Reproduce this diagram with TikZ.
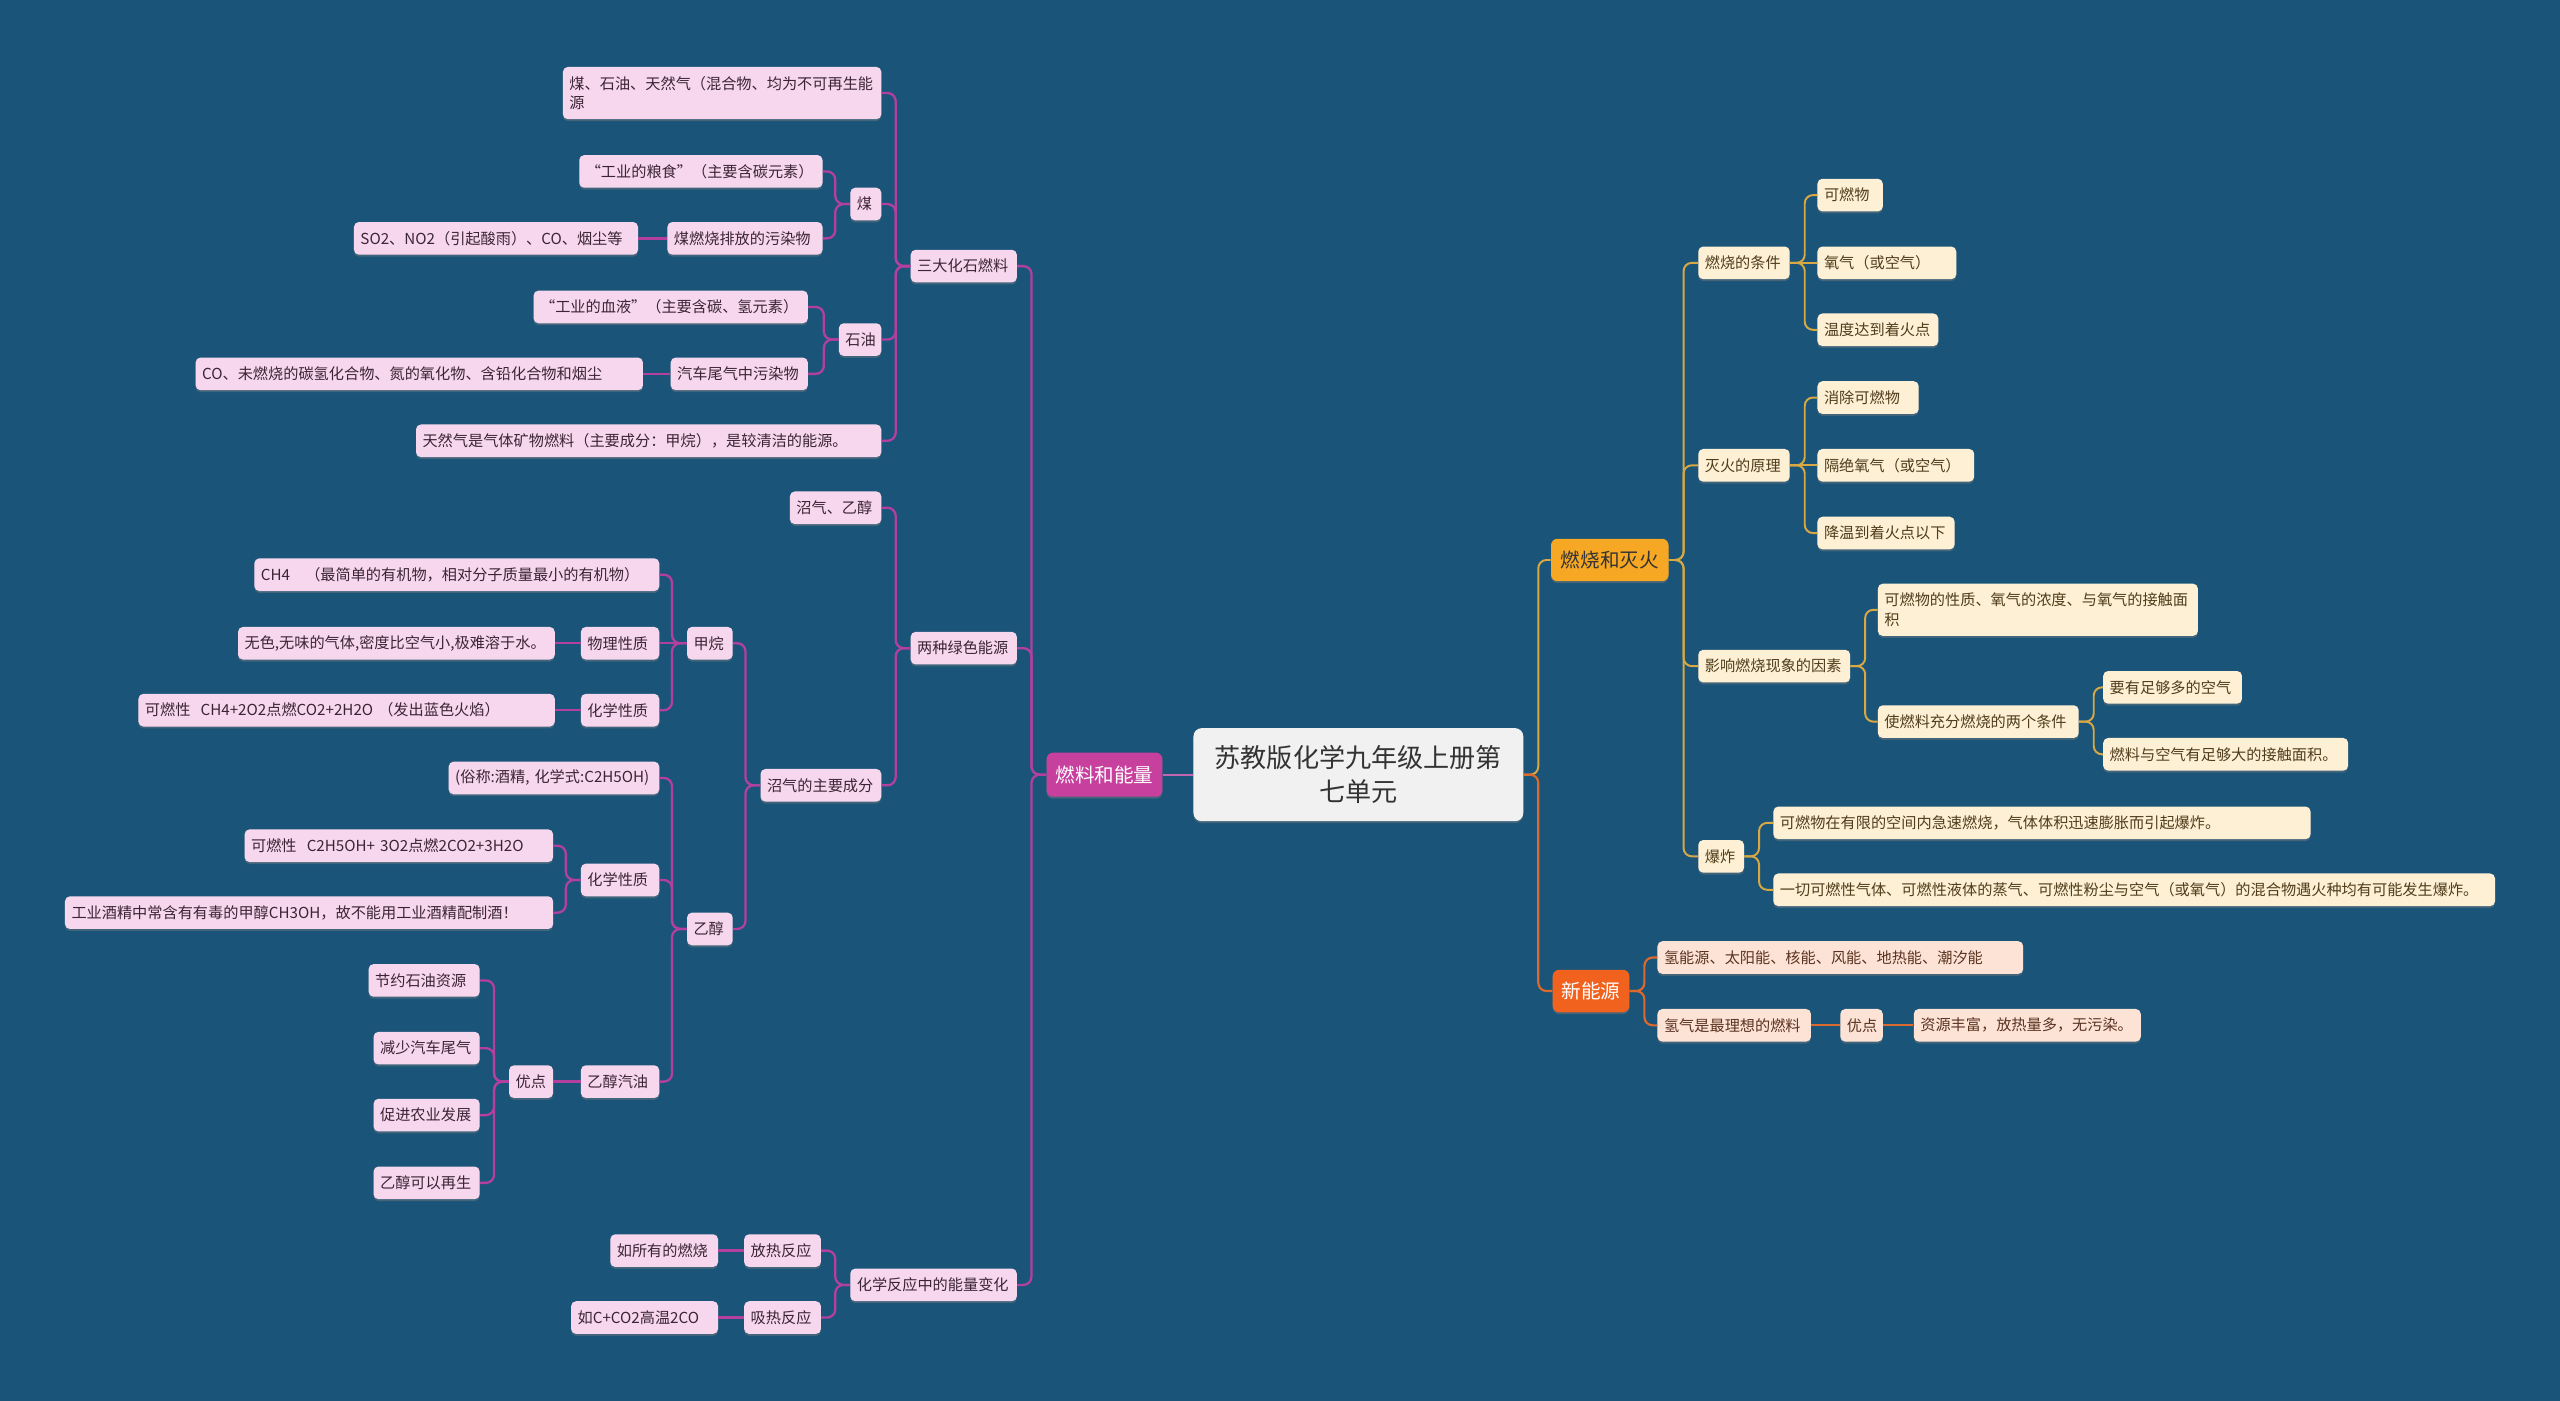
\documentclass[tikz,border=0pt]{standalone}
\usepackage{fontspec}
\newfontfamily\cjk{Noto Sans CJK SC}
\usetikzlibrary{shadows}
\definecolor{bg}{HTML}{1A5478}
\definecolor{pinkfill}{HTML}{F7D7ED}
\definecolor{pinktext}{HTML}{3B2436}
\definecolor{magline}{HTML}{B3409F}
\definecolor{magmain}{HTML}{C8409E}
\definecolor{creamfill}{HTML}{FEF0D4}
\definecolor{creamtext}{HTML}{4F3D1C}
\definecolor{goldline}{HTML}{D7A844}
\definecolor{yellowmain}{HTML}{F6A723}
\definecolor{peachfill}{HTML}{FDE3D5}
\definecolor{peachtext}{HTML}{5A3322}
\definecolor{orangeline}{HTML}{DC6A2E}
\definecolor{orangemain}{HTML}{F1621E}
\definecolor{rootfill}{HTML}{F1F1F1}
\newcommand\linkL[2]{\draw[lineL] (#1.west) -- ++(-9,0) |- (#2.east);}
\newcommand\linkR[3]{\draw[#1] (#2.east) -- ++(9,0) |- (#3.west);}
\begin{document}
\begin{tikzpicture}[x=1pt,y=-1pt,
  boxbase/.style={rounded corners=3pt, inner xsep=4pt, inner ysep=2pt, minimum height=20pt,
    font=\cjk\fontsize{9.3}{12}\selectfont, align=left,
    drop shadow={shadow xshift=0pt,shadow yshift=-1.2pt,opacity=0.4}},
  pinkbox/.style={boxbase, fill=pinkfill, text=pinktext, anchor=east},
  creambox/.style={boxbase, fill=creamfill, text=creamtext, anchor=west},
  peachbox/.style={boxbase, fill=peachfill, text=peachtext, anchor=west},
  mainbox/.style={rounded corners=4pt, inner sep=2pt, minimum height=27pt,
    font=\cjk\fontsize{12}{15}\selectfont,
    drop shadow={shadow xshift=0pt,shadow yshift=-1.2pt,opacity=0.4}},
  lineL/.style={draw=magline, line width=1.4pt, rounded corners=5pt},
  lineG/.style={draw=goldline, line width=1.2pt, rounded corners=5pt},
  lineO/.style={draw=orangeline, line width=1.3pt, rounded corners=5pt}
]
\fill[bg] (0,0) rectangle (1568,858);
\useasboundingbox (0,0) rectangle (1568,858);

% root and main branches
\node[rounded corners=5pt, fill=rootfill, text=black!80, minimum width=202pt, minimum height=57pt,
  align=center, font=\cjk\fontsize{16}{21}\selectfont,
  drop shadow={shadow xshift=0pt,shadow yshift=-1.2pt,opacity=0.4}] (root) at (832,474.5)
  {苏教版化学九年级上册第\\七单元};
\node[mainbox, fill=magmain, text=white, minimum width=71pt] (rl) at (676.5,474.5) {燃料和能量};
\node[mainbox, fill=yellowmain, text=black!80, minimum width=72pt, minimum height=26pt] (rshm) at (986,343) {燃烧和灭火};
\node[mainbox, fill=orangemain, text=white, minimum width=47pt, minimum height=26pt] (xny) at (974.5,607) {新能源};

% left side, level 2
\node[pinkbox, text width=57pt] (sdhs) at (623,163) {三大化石燃料};
\node[pinkbox, text width=57pt] (lzls) at (623,397) {两种绿色能源};
\node[pinkbox, text width=94pt] (hxfy) at (623,787) {化学反应中的能量变化};

% 三大化石燃料
\node[pinkbox, text width=187pt, minimum height=32pt] (mst) at (540,57) {煤、石油、天然气（混合物、均为不可再生能\\源};
\node[pinkbox, text width=11pt] (mei) at (540,125) {煤};
\node[pinkbox, text width=18pt] (sy) at (540,208) {石油};
\node[pinkbox, text width=277pt] (trq) at (540,270) {天然气是气体矿物燃料（主要成分：甲烷），是较清洁的能源。};
\node[pinkbox, text width=141pt] (meia) at (504,105) {“工业的粮食”（主要含碳元素）};
\node[pinkbox, text width=87pt] (meib) at (504,146) {煤燃烧排放的污染物};
\node[pinkbox, text width=166pt] (meic) at (391,146) {SO2、NO2（引起酸雨）、CO、烟尘等};
\node[pinkbox, text width=160pt] (sya) at (495,188) {“工业的血液”（主要含碳、氢元素）};
\node[pinkbox, text width=76pt] (syb) at (495,229) {汽车尾气中污染物};
\node[pinkbox, text width=266pt] (syc) at (394,229) {CO、未燃烧的碳氢化合物、氮的氧化物、含铅化合物和烟尘};

% 两种绿色能源
\node[pinkbox, text width=48pt] (zq) at (540,311) {沼气、乙醇};
\node[pinkbox, text width=66pt] (zqzy) at (540,481) {沼气的主要成分};
\node[pinkbox, text width=20pt] (jw) at (449,394) {甲烷};
\node[pinkbox, text width=20pt] (yc) at (449,569) {乙醇};
\node[pinkbox, text width=240pt] (chf) at (404,352) {CH4\quad（最简单的有机物，相对分子质量最小的有机物）};
\node[pinkbox, text width=40pt] (wl) at (404,394) {物理性质};
\node[pinkbox, text width=186pt] (wla) at (340,394) {无色,无味的气体,密度比空气小,极难溶于水。};
\node[pinkbox, text width=40pt] (hx) at (404,435) {化学性质};
\node[pinkbox, text width=247pt] (hxa) at (340,435) {可燃性~~CH4+2O2点燃CO2+2H2O~（发出蓝色火焰）};
\node[pinkbox, text width=121pt] (jj) at (404,476.5) {(俗称:酒精,~化学式:C2H5OH)};
\node[pinkbox, text width=40pt] (hxb) at (404,539) {化学性质};
\node[pinkbox, text width=181pt] (hxba) at (339,518) {可燃性~~C2H5OH+~3O2点燃2CO2+3H2O};
\node[pinkbox, text width=291pt] (hxbb) at (339,559) {工业酒精中常含有有毒的甲醇CH3OH，故不能用工业酒精配制酒！};
\node[pinkbox, text width=40pt] (ycqy) at (404,662.5) {乙醇汽油};
\node[pinkbox, text width=19pt] (yd) at (339,662.5) {优点};
\node[pinkbox, text width=60pt] (yda) at (294,600.5) {节约石油资源};
\node[pinkbox, text width=57pt] (ydb) at (294,642) {减少汽车尾气};
\node[pinkbox, text width=57pt] (ydc) at (294,683) {促进农业发展};
\node[pinkbox, text width=57pt] (ydd) at (294,724.5) {乙醇可以再生};

% 化学反应中的能量变化
\node[pinkbox, text width=39pt] (fr) at (503,766) {放热反应};
\node[pinkbox, text width=58pt] (fra) at (440,766) {如所有的燃烧};
\node[pinkbox, text width=39pt] (xr) at (503,807) {吸热反应};
\node[pinkbox, text width=82pt] (xra) at (440,807) {如C+CO2高温2CO};

% right side: 燃烧和灭火
\node[creambox, text width=48pt] (tj) at (1040,161) {燃烧的条件};
\node[creambox, text width=32pt] (tja) at (1113,119.5) {可燃物};
\node[creambox, text width=77pt] (tjb) at (1113,161) {氧气（或空气）};
\node[creambox, text width=66pt] (tjc) at (1113,202) {温度达到着火点};
\node[creambox, text width=48pt] (mh) at (1040,285) {灭火的原理};
\node[creambox, text width=54pt] (mha) at (1113,243.5) {消除可燃物};
\node[creambox, text width=88pt] (mhb) at (1113,285) {隔绝氧气（或空气）};
\node[creambox, text width=76pt] (mhc) at (1113,326.5) {降温到着火点以下};
\node[creambox, text width=85pt] (yx) at (1040,408) {影响燃烧现象的因素};
\node[creambox, text width=188pt, minimum height=32pt] (yxa) at (1150,373.5) {可燃物的性质、氧气的浓度、与氧气的接触面\\积};
\node[creambox, text width=115pt] (yxb) at (1150,442) {使燃料充分燃烧的两个条件};
\node[creambox, text width=77pt] (yxba) at (1288,421) {要有足够多的空气};
\node[creambox, text width=142pt] (yxbb) at (1288,462) {燃料与空气有足够大的接触面积。};
\node[creambox, text width=20pt] (bz) at (1040,524.5) {爆炸};
\node[creambox, text width=321pt] (bza) at (1086,504) {可燃物在有限的空间内急速燃烧，气体体积迅速膨胀而引起爆炸。};
\node[creambox, text width=434pt] (bzb) at (1086,545) {一切可燃性气体、可燃性液体的蒸气、可燃性粉尘与空气（或氧气）的混合物遇火种均有可能发生爆炸。};

% right side: 新能源
\node[peachbox, text width=216pt] (xna) at (1015,586.5) {氢能源、太阳能、核能、风能、地热能、潮汐能};
\node[peachbox, text width=86pt] (xnb) at (1015,628) {氢气是最理想的燃料};
\node[peachbox, text width=18pt] (xnc) at (1127,628) {优点};
\node[peachbox, text width=131pt] (xnd) at (1172,628) {资源丰富，放热量多，无污染。};

% connectors: root
\draw[draw=magline!80!white, line width=1.4pt] (root.west) -- (rl.east);
\linkR{lineG}{root}{rshm}
\linkR{lineO}{root}{xny}

% left
\linkL{rl}{sdhs}
\linkL{rl}{lzls}
\linkL{rl}{hxfy}
\linkL{sdhs}{mst}
\linkL{sdhs}{mei}
\linkL{sdhs}{sy}
\linkL{sdhs}{trq}
\linkL{mei}{meia}
\linkL{mei}{meib}
\draw[lineL] (meib.west) -- (meic.east);
\linkL{sy}{sya}
\linkL{sy}{syb}
\draw[lineL] (syb.west) -- (syc.east);
\linkL{lzls}{zq}
\linkL{lzls}{zqzy}
\linkL{zqzy}{jw}
\linkL{zqzy}{yc}
\linkL{jw}{chf}
\draw[lineL] (jw.west) -- (wl.east);
\linkL{jw}{hx}
\draw[lineL] (wl.west) -- (wla.east);
\draw[lineL] (hx.west) -- (hxa.east);
\linkL{yc}{jj}
\linkL{yc}{hxb}
\linkL{yc}{ycqy}
\linkL{hxb}{hxba}
\linkL{hxb}{hxbb}
\draw[lineL] (ycqy.west) -- (yd.east);
\linkL{yd}{yda}
\linkL{yd}{ydb}
\linkL{yd}{ydc}
\linkL{yd}{ydd}
\linkL{hxfy}{fr}
\linkL{hxfy}{xr}
\draw[lineL] (fr.west) -- (fra.east);
\draw[lineL] (xr.west) -- (xra.east);

% right gold
\linkR{lineG}{rshm}{tj}
\linkR{lineG}{rshm}{mh}
\linkR{lineG}{rshm}{yx}
\linkR{lineG}{rshm}{bz}
\linkR{lineG}{tj}{tja}
\draw[lineG] (tj.east) -- (tjb.west);
\linkR{lineG}{tj}{tjc}
\linkR{lineG}{mh}{mha}
\draw[lineG] (mh.east) -- (mhb.west);
\linkR{lineG}{mh}{mhc}
\linkR{lineG}{yx}{yxa}
\linkR{lineG}{yx}{yxb}
\linkR{lineG}{yxb}{yxba}
\linkR{lineG}{yxb}{yxbb}
\linkR{lineG}{bz}{bza}
\linkR{lineG}{bz}{bzb}

% right orange
\linkR{lineO}{xny}{xna}
\linkR{lineO}{xny}{xnb}
\draw[lineO] (xnb.east) -- (xnc.west);
\draw[lineO] (xnc.east) -- (xnd.west);
\end{tikzpicture}
\end{document}
